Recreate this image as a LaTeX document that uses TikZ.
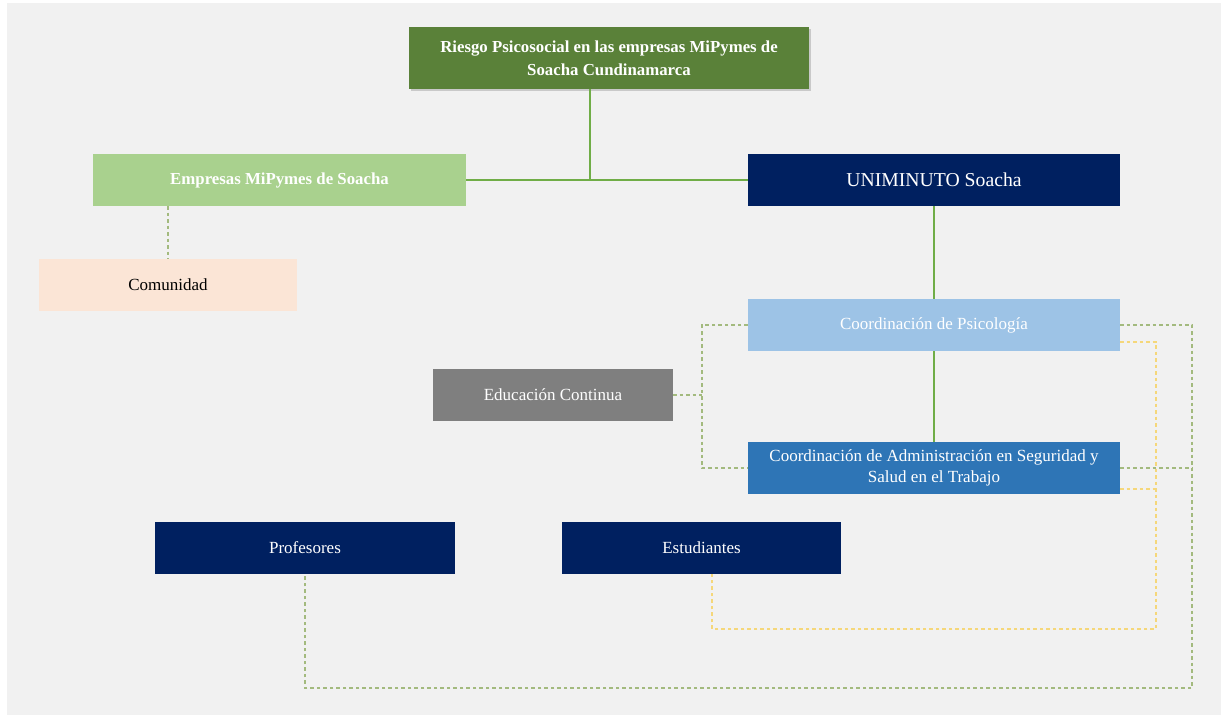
\documentclass[tikz,border=0pt]{standalone}
\usepackage{fontspec}
\setmainfont{Liberation Serif}
\usetikzlibrary{shadows}
\definecolor{bg}{HTML}{F1F1F1}
\definecolor{topgreen}{HTML}{5A8139}
\definecolor{lgreen}{HTML}{A9D18E}
\definecolor{navy}{HTML}{002060}
\definecolor{lblue}{HTML}{9DC3E6}
\definecolor{mblue}{HTML}{2E75B6}
\definecolor{gry}{HTML}{7F7F7F}
\definecolor{peach}{HTML}{FBE5D6}
\definecolor{linegreen}{HTML}{70AD47}
\definecolor{dashgreen}{HTML}{A3BA7E}
\definecolor{dashyellow}{HTML}{F5D77A}
\begin{document}
\begin{tikzpicture}[x=1pt,y=-1pt,
  box/.style={rectangle, inner sep=0pt, align=center, font=\fontsize{17}{20.5}\selectfont},
  boldtxt/.style={font=\bfseries\fontsize{16.8}{23}\selectfont},
  solidline/.style={draw=linegreen, line width=1.6pt},
  gdash/.style={draw=dashgreen, line width=1.1pt, dash pattern=on 3.5pt off 3pt},
  ydash/.style={draw=dashyellow, line width=1.1pt, dash pattern=on 3.5pt off 3pt}]
\useasboundingbox (0,0) rectangle (1221,715);
\fill[white] (0,0) rectangle (1221,715);
\fill[bg] (7,3) rectangle (1221,715);

\node[box, boldtxt, fill=topgreen, text=white, minimum width=400pt, minimum height=62pt,
  drop shadow={opacity=0.35, shadow xshift=1.5pt, shadow yshift=-2pt}] (top) at (609,58)
  {Riesgo Psicosocial en las empresas MiPymes de\\Soacha Cundinamarca};
\node[box, boldtxt, fill=lgreen, text=white, minimum width=373pt, minimum height=52pt] (emp) at (279.5,180) {Empresas MiPymes de Soacha};
\node[box, fill=navy, text=white, font=\fontsize{19.7}{24}\selectfont, minimum width=372pt, minimum height=52pt] (uni) at (934,180) {UNIMINUTO Soacha};
\node[box, fill=peach, text=black, minimum width=258pt, minimum height=52pt] (com) at (168,285) {Comunidad};
\node[box, fill=lblue, text=white, minimum width=372pt, minimum height=52pt] (psi) at (934,325) {Coordinación de Psicología};
\node[box, fill=gry, text=white, minimum width=240pt, minimum height=52pt] (edu) at (553,395) {Educación Continua};
\node[box, fill=mblue, text=white, minimum width=372pt, minimum height=52pt] (adm) at (934,468) {Coordinación de Administración en Seguridad y\\Salud en el Trabajo};
\node[box, fill=navy, text=white, minimum width=300pt, minimum height=52pt] (prof) at (305,548) {Profesores};
\node[box, fill=navy, text=white, minimum width=279pt, minimum height=52pt] (est) at (701.5,548) {Estudiantes};

\coordinate (j) at (590,180);
\coordinate (eL) at (702,395);
\coordinate (gR) at (1192,688);
\coordinate (yR) at (1156,629);
\coordinate (yL) at (712,629);

% solid connectors
\draw[solidline] (top.south -| j) -- (j);
\draw[solidline] (emp.east) -- (uni.west);
\draw[solidline] (uni.south) -- (psi.north);
\draw[solidline] (psi.south) -- (adm.north);

% dashed connectors
\draw[gdash] (emp.south -| com.north) -- (com.north);
\draw[gdash] (edu.east) -- (eL);
\draw[gdash] (psi.west) -| (eL) |- (adm.west);
\draw[gdash] (psi.east) -| (gR) -| (prof.south);
\draw[gdash] (adm.east) -- (adm.east -| gR);
\draw[ydash] ([yshift=-17pt]psi.east) -| (yR) -- (yL) -- (yL |- est.south);
\draw[ydash] ([yshift=-21pt]adm.east) -- ([yshift=-21pt]adm.east -| yR);
\end{tikzpicture}
\end{document}
